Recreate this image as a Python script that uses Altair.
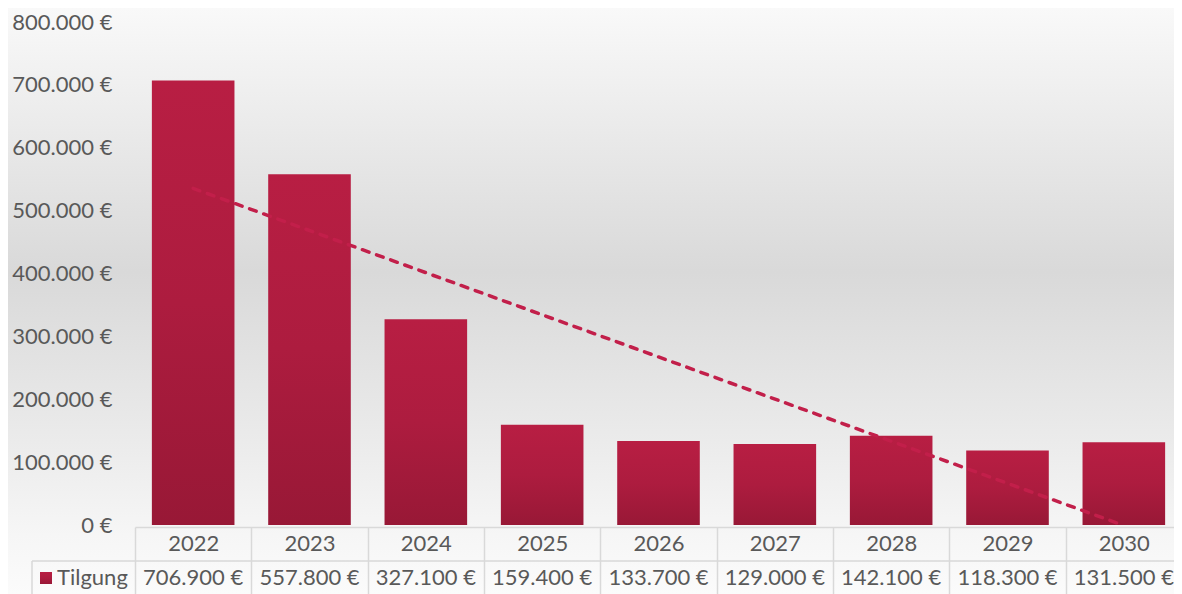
import altair as alt
import pandas as pd

# ---- data ----
years = [2022, 2023, 2024, 2025, 2026, 2027, 2028, 2029, 2030]
tilgung = [706900, 557800, 327100, 159400, 133700, 129000, 142100, 118300, 131500]
series_name = "Tilgung"
y_tick_values = [0, 100000, 200000, 300000, 400000, 500000, 600000, 700000, 800000]


def de_eur(v):
    return f"{v:,}".replace(",", ".") + " €"


df = pd.DataFrame({"year": years, "value": tilgung})
df["label"] = [de_eur(v) for v in tilgung]

W, H = 1047, 503
FONT = "Lato"
TXT = "#595959"
LINE = "#d9d9d9"
FS = 22

bar_grad = alt.Gradient(
    gradient="linear",
    stops=[
        alt.GradientStop(color="#b81e43", offset=0),
        alt.GradientStop(color="#ad1c3f", offset=0.5),
        alt.GradientStop(color="#981836", offset=1),
    ],
    x1=0, x2=0, y1=0, y2=1,
)

bg_grad = alt.Gradient(
    gradient="linear",
    stops=[
        alt.GradientStop(color="#f9f9f9", offset=0),
        alt.GradientStop(color="#d9d9d9", offset=0.45),
        alt.GradientStop(color="#ebebeb", offset=0.74),
        alt.GradientStop(color="#f6f6f6", offset=0.9),
        alt.GradientStop(color="#fbfbfb", offset=1),
    ],
    x1=0, x2=0, y1=0, y2=1,
)

one = pd.DataFrame({"k": [0]})

background = alt.Chart(one).mark_rect(fill=bg_grad).encode(
    x=alt.value(-127), x2=alt.value(W), y=alt.value(-14), y2=alt.value(H + 69)
)

x_enc = alt.X(
    "year:O",
    title=None,
    scale=alt.Scale(paddingInner=0, paddingOuter=0),
    axis=alt.Axis(
        orient="bottom",
        offset=2,
        zindex=1,
        domainColor=LINE,
        domainWidth=1.5,
        tickColor=LINE,
        tickWidth=1.5,
        tickSize=67,
        tickBand="extent",
        labelFont=FONT,
        labelFontSize=FS,
        labelColor=TXT,
        labelAngle=0,
        labelPadding=-61,
        labelBaseline="top",
    ),
)

y_enc = alt.Y(
    "value:Q",
    title=None,
    scale=alt.Scale(domain=[0, 800000], nice=False),
    axis=alt.Axis(
        values=y_tick_values,
        zindex=1,
        domain=False,
        ticks=False,
        grid=False,
        labelFont=FONT,
        labelFontSize=FS,
        labelColor=TXT,
        labelPadding=23,
        labelExpr="replace(format(datum.value, ',d'), ',', '.') + ' €'",
    ),
)

bars = alt.Chart(df).mark_bar(
    fill=bar_grad, width=alt.RelativeBandSize(band=0.71)
).encode(x=x_enc, y=y_enc)

trend = (
    alt.Chart(df)
    .transform_regression("year", "value")
    .mark_line(color="#c21f4a", strokeWidth=3.5, strokeDash=[7, 8], strokeCap="round")
    .encode(x="year:O", y="value:Q")
)

values_row = alt.Chart(df).mark_text(
    font=FONT, fontSize=FS, color=TXT, baseline="middle", align="center"
).encode(x="year:O", y=alt.value(H + 53), text="label:N")

row_line = alt.Chart(one).mark_rule(color=LINE, strokeWidth=1.5).encode(
    x=alt.value(-103), x2=alt.value(W), y=alt.value(H + 36)
)
left_border = alt.Chart(one).mark_rule(color=LINE, strokeWidth=1.5).encode(
    x=alt.value(-103), y=alt.value(H + 36), y2=alt.value(H + 70)
)

legend_sq = alt.Chart(one).mark_rect(fill=bar_grad).encode(
    x=alt.value(-95), x2=alt.value(-83), y=alt.value(H + 47), y2=alt.value(H + 59)
)
legend_txt = alt.Chart(pd.DataFrame({"t": [series_name]})).mark_text(
    font=FONT, fontSize=FS, color=TXT, align="left", baseline="middle"
).encode(x=alt.value(-78), y=alt.value(H + 53), text="t:N")

chart = (
    alt.layer(background, bars, trend, values_row, row_line, left_border, legend_sq, legend_txt)
    .properties(
        width=W,
        height=H,
        autosize=alt.AutoSizeParams(type="none"),
        padding={"left": 127, "top": 14, "right": -8, "bottom": 69},
        background="#ffffff",
    )
    .configure_view(strokeWidth=0)
)

chart.save("out.html", embed_options={"renderer": "svg", "actions": False})
